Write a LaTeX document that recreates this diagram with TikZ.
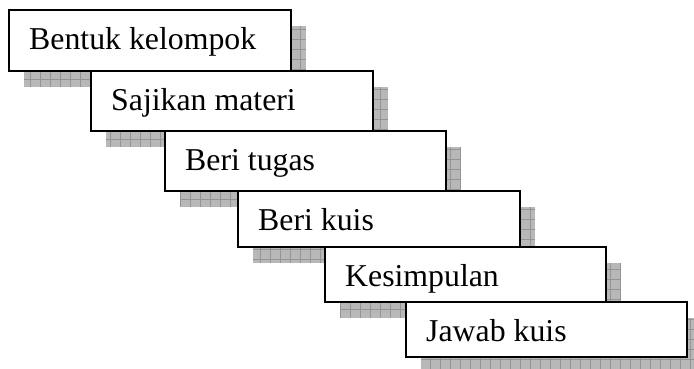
\documentclass[tikz,border=0pt]{standalone}
\usepackage{fontspec}
\setmainfont{Liberation Serif}
\definecolor{shfill}{HTML}{B8B8B8}
\definecolor{shgrid}{HTML}{949494}
\tikzset{
  stepbox/.style={draw=black, line width=1.4pt, fill=white},
  steplabel/.style={anchor=base west, inner sep=0pt, font=\fontsize{31.8}{36}\selectfont},
  shadowbox/.style={fill=shfill},
  shadowgrid/.style={draw=shgrid, line width=0.6pt}
}
\newcommand\mystep[6]{%
  % #1 name, #2 x1, #3 ytop, #4 x2, #5 ybottom, #6 text
  \begin{scope}
    \clip (#2+15,#3-16) rectangle (#4+15,#5-16);
    \fill[shadowbox] (#2+15,#3-16) rectangle (#4+15,#5-16);
    \draw[shadowgrid, step=10pt] (#2+15,#5-16) grid (#4+15,#3-16);
  \end{scope}
  \draw[stepbox] (#2,#3) rectangle (#4,#5);
  \node[steplabel] (#1) at (#2+20,#3-40) {#6};
}
\begin{document}
\begin{tikzpicture}[x=1pt,y=1pt]
\clip (0,0) rectangle (694,369);
\mystep{s1}{9}{359}{291}{298}{Bentuk kelompok}
\mystep{s2}{91}{298}{373}{238}{Sajikan materi}
\mystep{s3}{165}{238}{446}{178}{Beri tugas}
\mystep{s4}{238}{178}{520}{122}{Beri kuis}
\mystep{s5}{325}{122}{606}{67}{Kesimpulan}
\mystep{s6}{406}{67}{687}{12}{Jawab kuis}
\end{tikzpicture}
\end{document}
